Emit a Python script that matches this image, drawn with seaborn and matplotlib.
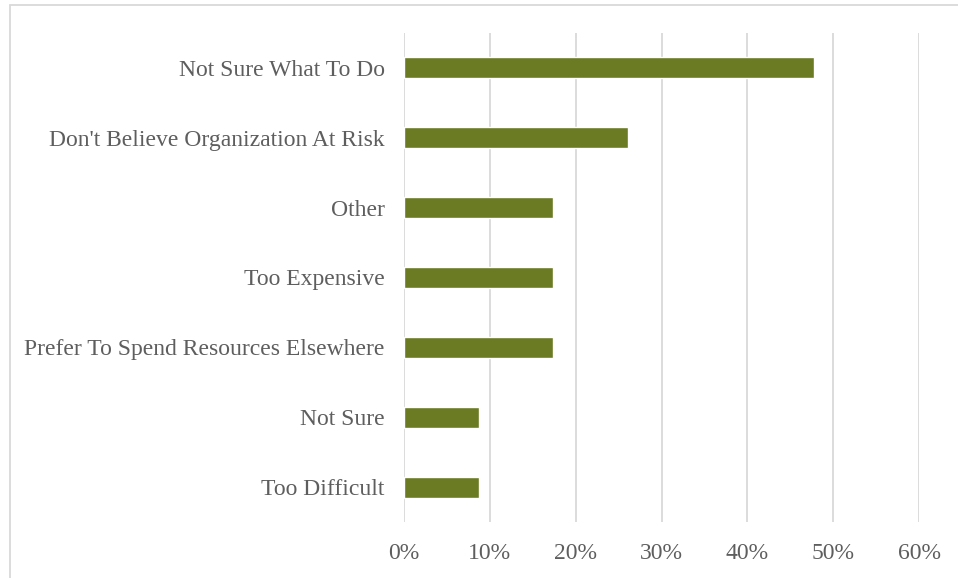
import matplotlib
matplotlib.use("Agg")
import matplotlib.pyplot as plt
import matplotlib.patches as mpatches
from matplotlib.ticker import FuncFormatter, MultipleLocator
import seaborn as sns
import pandas as pd

# Survey responses: reasons for not acting
reasons = [
    "Not Sure What To Do",
    "Don't Believe Organization At Risk",
    "Other",
    "Too Expensive",
    "Prefer To Spend Resources Elsewhere",
    "Not Sure",
    "Too Difficult",
]
shares = [47.8, 26.1, 17.4, 17.4, 17.4, 8.7, 8.7]

df = pd.DataFrame({"reason": reasons, "share": shares})

sns.set_theme(style="white")
plt.rcParams["font.family"] = ["Liberation Serif", "DejaVu Serif"]

text_color = "#5E5E5E"
grid_color = "#D9D9D9"
bar_color = "#6A7B23"

fig = plt.figure(figsize=(9.58, 5.78), dpi=100)
ax = fig.add_axes([404 / 958, 1 - 522 / 578, (919 - 404) / 958, (522 - 33) / 578])

sns.barplot(data=df, x="share", y="reason", color=bar_color, width=0.3,
            saturation=1, ax=ax, zorder=3)

ax.set_xlim(0, 60)
ax.xaxis.set_major_locator(MultipleLocator(10))
ax.xaxis.set_major_formatter(FuncFormatter(lambda v, _: f"{v:.0f}%"))
ax.grid(axis="x", color=grid_color, linewidth=1.3, zorder=0)
ax.grid(axis="y", visible=False)
for side in ["top", "right", "bottom", "left"]:
    ax.spines[side].set_visible(False)

ax.set_xlabel("")
ax.set_ylabel("")
ax.tick_params(axis="y", length=0, pad=14, labelsize=17, labelcolor=text_color)
ax.tick_params(axis="x", length=0, pad=15, labelsize=17, labelcolor=text_color)

# Chart frame
frame = mpatches.Rectangle((10 / 958, -0.05), 1.2, 1 - 5 / 578 + 0.05,
                           transform=fig.transFigure, fill=False,
                           edgecolor=grid_color, linewidth=1.3)
fig.patches.append(frame)

fig.savefig("out.png", dpi=100)
